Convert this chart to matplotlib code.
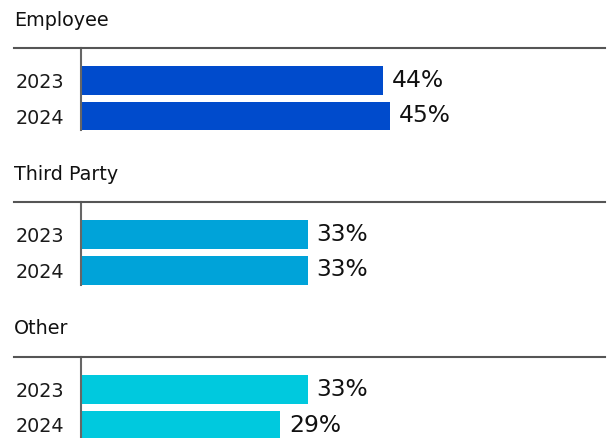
import matplotlib.pyplot as plt
from matplotlib.lines import Line2D

groups = ["Employee", "Third Party", "Other"]
years = ["2023", "2024"]
employee = [44, 45]
third_party = [33, 33]
other = [33, 29]
values = [employee, third_party, other]
colors = ["#004BCC", "#00A3D9", "#00C9DE"]

W, H = 610, 438
fig = plt.figure(figsize=(W / 100, H / 100), dpi=100)
plt.rcParams['font.family'] = ['DejaVu Sans']

line_tops = [48, 202, 357]
bottoms = [130, 285, 438]
title_y = [20, 174, 329]
first_centers = [80.5, 234.5, 389.5]
step = 35.5
px_per_unit = 6.87
ax_left = 81

for g, vals, col, top, bot, ty, c0 in zip(groups, values, colors, line_tops, bottoms, title_y, first_centers):
    ax = fig.add_axes([ax_left / W, (H - bot) / H, (W - ax_left) / W, (bot - top) / H])
    ypos = list(range(len(years)))
    ax.barh(ypos, vals, height=29 / step, color=col)
    ax.set_xlim(0, (W - ax_left) / px_per_unit)
    ytop = -(c0 - top) / step
    ybot = (bot - c0) / step
    ax.set_ylim(ybot, ytop)
    ax.set_yticks(ypos)
    ax.set_yticklabels(years, fontsize=13.8, color="#1a1a1a")
    ax.tick_params(axis='y', length=0, pad=12)
    ax.set_xticks([])
    for s in ["top", "right", "bottom"]:
        ax.spines[s].set_visible(False)
    ax.spines["left"].set_color("#666666")
    ax.spines["left"].set_linewidth(1.5)
    for y, v in zip(ypos, vals):
        ax.annotate(f"{v}%", xy=(v, y), xytext=(6.5, 0), textcoords="offset points",
                    va="center", ha="left", fontsize=16.8, color="#111111")
    fig.add_artist(Line2D([14 / W, 605 / W], [(H - top) / H] * 2, color="#555555", linewidth=1.5))
    fig.text(14 / W, (H - ty) / H, g, fontsize=13.8, va="center", ha="left", color="#111111")

fig.savefig("out.png", dpi=100)
